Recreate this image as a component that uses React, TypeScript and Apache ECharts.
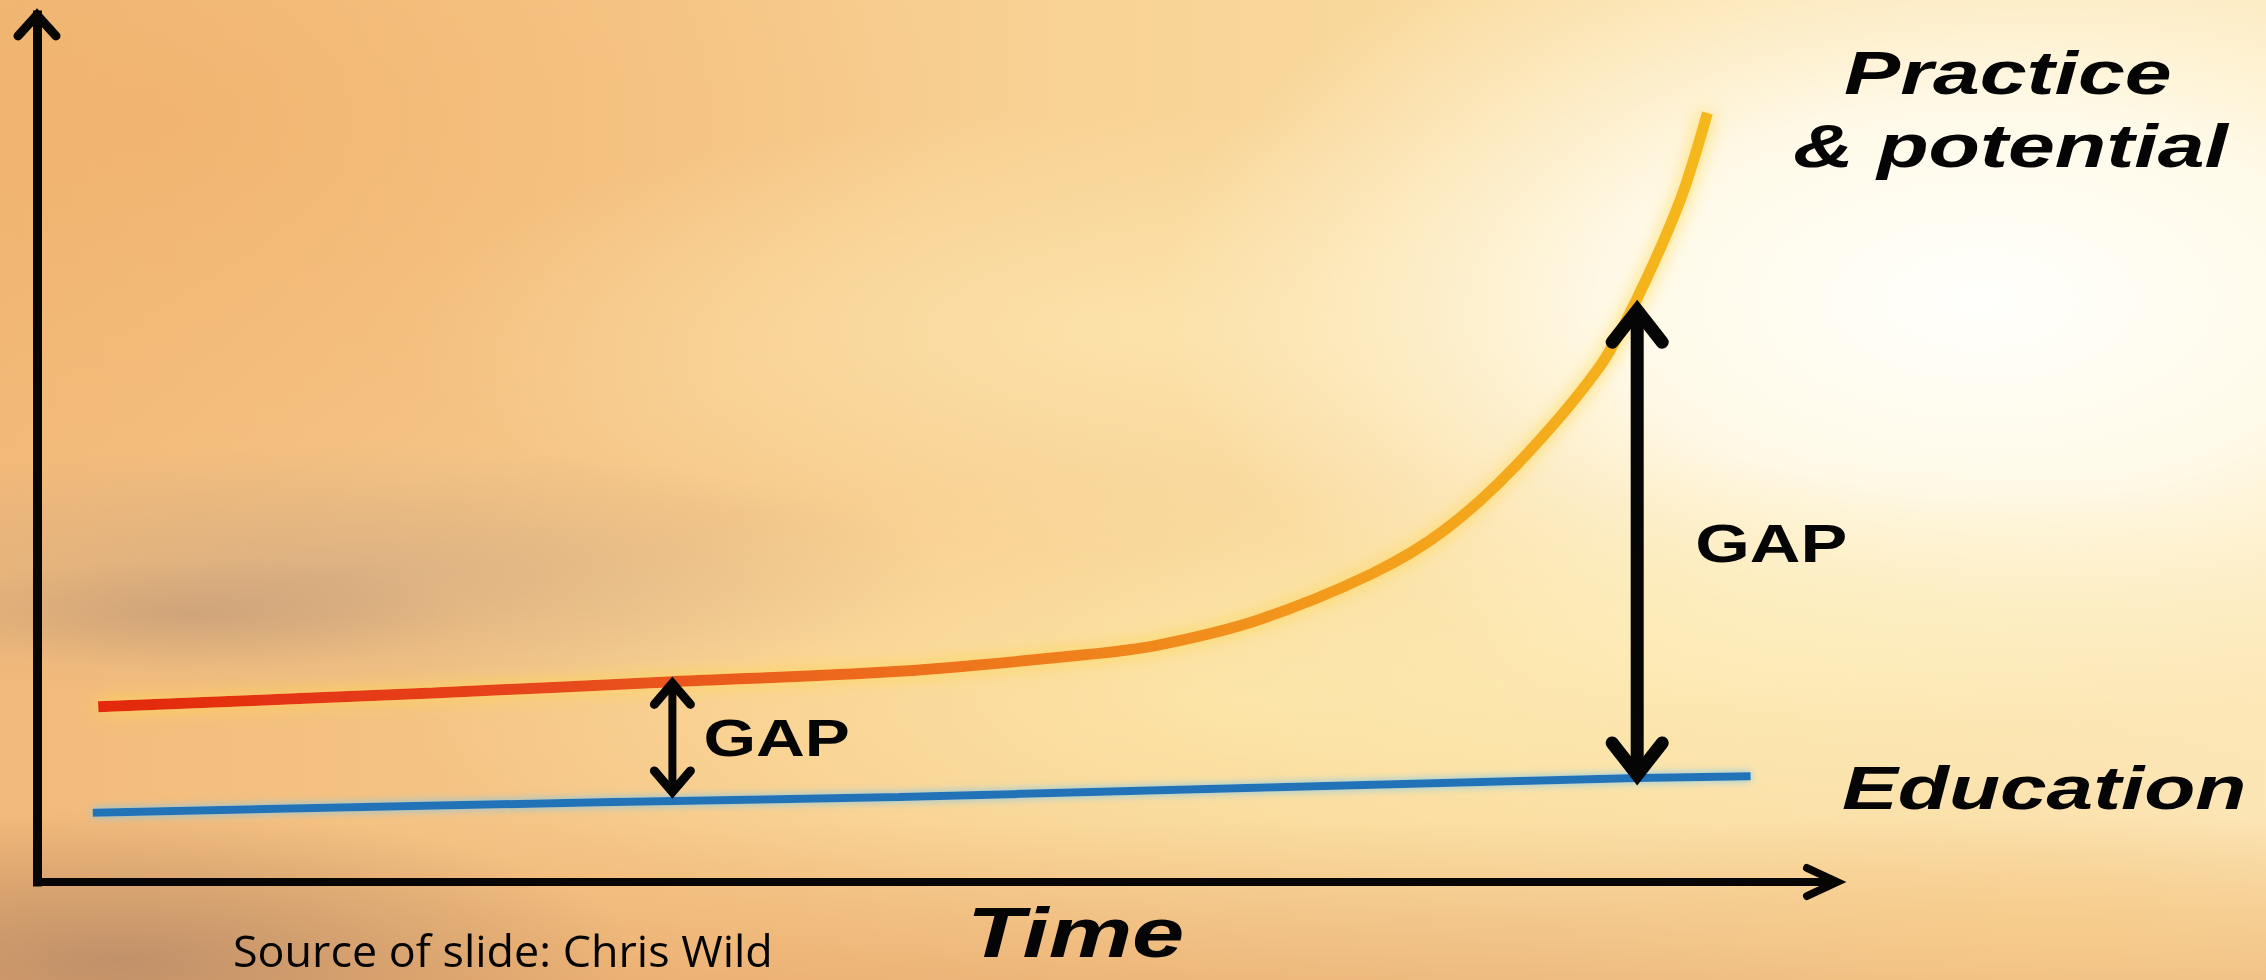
import React, { useEffect, useRef } from "react";
import * as echarts from "echarts";

// ---- data (axis units 0..100) ----
const practiceX = [3.4, 22.0, 35.3, 47.9, 58.2, 62.2, 67.8, 74.2, 78.2, 82.2, 86.7, 88.8, 91.3, 92.8];
const practiceY = [20.2, 21.8, 23.1, 24.3, 26.2, 27.3, 30.2, 35.6, 40.6, 48.1, 59.1, 66.9, 78.7, 88.7];
const educationX = [3.1, 31.3, 47.9, 88.9, 95.2];
const educationY = [8.0, 9.2, 9.8, 12.0, 12.2];
const gapX = [35.3, 88.9];
const gapTop = [23.6, 67.1];
const gapBottom = [9.7, 11.2];
const gapLabels = ["GAP", "GAP"];
const axisMin = 0;
const axisMax = 100;
const practiceLabel = ["Practice", "& potential"];
const educationLabel = "Education";
const axisTitle = "Time";
const sourceNote = "Source of slide: Chris Wild";

// ---- styles ----
const W = 2266;
const H = 980;
const BOLD = '"Liberation Sans", Arial, Helvetica, sans-serif';
const gapStyle = [
  { shaft: 8, stroke: 9, hw: 18, len: 27, inset: 6, font: 52, dx: 31, sx: 1.3 },
  { shaft: 13, stroke: 13, hw: 25, len: 42, inset: 10, font: 54, dx: 58, sx: 1.3 },
];
const axisHeadStyle = [
  { stroke: 8, ax: -30, ay: 14, horiz: true },
  { stroke: 9, ax: 19, ay: 21, horiz: false },
];

function radial(stops: [number, string][]) {
  return new echarts.graphic.RadialGradient(
    0.5,
    0.5,
    0.5,
    stops.map(([offset, color]) => ({ offset, color }))
  );
}

function blob(cx: number, cy: number, rx: number, ry: number, stops: [number, string][]) {
  return {
    type: "ellipse",
    silent: true,
    z: -100,
    shape: { cx, cy, rx, ry },
    style: { fill: radial(stops) },
  };
}

function label(text: string, x: number, y: number, font: string, sx: number) {
  const style: any = { text, x: 0, y: 0, font, fill: "#050505", align: "left", verticalAlign: "middle" };
  return { type: "text", silent: true, z: 100, x, y, scaleX: sx, style };
}

export default function App() {
  const ref = useRef<HTMLDivElement>(null);

  useEffect(() => {
    if (!ref.current) return;
    const chart = echarts.init(ref.current, undefined, { renderer: "svg", width: W, height: H });

    const background = [
      {
        type: "rect",
        silent: true,
        z: -100,
        shape: { x: 0, y: 0, width: W, height: H },
        style: {
          fill: new echarts.graphic.LinearGradient(0, 0, 1, 0, [
            { offset: 0, color: "#F2BA7A" },
            { offset: 0.35, color: "#F7CB8C" },
            { offset: 0.65, color: "#FADBA0" },
            { offset: 1, color: "#FCE6B6" },
          ]),
        },
      },
      blob(150, 120, 800, 380, [[0, "rgba(240,172,100,0.5)"], [1, "rgba(240,172,100,0)"]]),
      blob(1150, 330, 750, 220, [[0, "rgba(253,232,178,0.7)"], [1, "rgba(253,232,178,0)"]]),
      blob(1250, 700, 850, 230, [[0, "rgba(253,232,170,0.75)"], [1, "rgba(253,232,170,0)"]]),
      blob(1980, 300, 820, 430, [[0, "rgba(255,255,252,1)"], [0.45, "rgba(255,252,238,0.9)"], [1, "rgba(255,246,215,0)"]]),
      blob(1750, 640, 700, 180, [[0, "rgba(253,240,190,0.6)"], [1, "rgba(253,240,190,0)"]]),
      blob(330, 575, 620, 130, [[0, "rgba(188,155,130,0.45)"], [1, "rgba(188,155,130,0)"]]),
      blob(190, 615, 280, 55, [[0, "rgba(160,128,108,0.3)"], [1, "rgba(160,128,108,0)"]]),
      {
        type: "rect",
        silent: true,
        z: -100,
        shape: { x: 0, y: 820, width: W, height: 160 },
        style: {
          fill: new echarts.graphic.LinearGradient(0, 0, 0, 1, [
            { offset: 0, color: "rgba(228,160,100,0)" },
            { offset: 1, color: "rgba(228,160,100,0.55)" },
          ]),
        },
      },
      blob(120, 960, 520, 150, [[0, "rgba(165,125,100,0.6)"], [1, "rgba(165,125,100,0)"]]),
      blob(2050, 930, 520, 130, [[0, "rgba(250,205,130,0.5)"], [1, "rgba(250,205,130,0)"]]),
    ];

    const texts = [
      label(practiceLabel[0], 1844, 73, `italic bold 61px ${BOLD}`, 1.38),
      label(practiceLabel[1], 1793, 146, `italic bold 61px ${BOLD}`, 1.38),
      label(educationLabel, 1842, 788, `italic bold 62px ${BOLD}`, 1.35),
      label(axisTitle, 967, 933, `italic bold 70px ${BOLD}`, 1.34),
      label(sourceNote, 233, 950, `44px "Open Sans", "Noto Sans", sans-serif`, 1.02),
    ];

    const option: any = {
      animation: false,
      backgroundColor: "transparent",
      graphic: [...background, ...texts],
      grid: { left: 37, right: W - 1837, top: 15, bottom: H - 882, containLabel: false },
      xAxis: {
        type: "value",
        min: axisMin,
        max: axisMax,
        axisLine: { show: true, onZero: false, lineStyle: { color: "#070605", width: 8, cap: "butt" } },
        axisTick: { show: false },
        axisLabel: { show: false },
        splitLine: { show: false },
      },
      yAxis: {
        type: "value",
        min: axisMin,
        max: axisMax,
        axisLine: { show: true, onZero: false, lineStyle: { color: "#070605", width: 9, cap: "square" } },
        axisTick: { show: false },
        axisLabel: { show: false },
        splitLine: { show: false },
      },
      series: [
        {
          name: "Practice & potential",
          type: "line",
          smooth: 0.3,
          symbol: "none",
          clip: false,
          data: practiceX.map((x, i) => [x, practiceY[i]]),
          lineStyle: {
            width: 11,
            cap: "butt",
            color: new echarts.graphic.LinearGradient(0, 0, 1, 0, [
              { offset: 0, color: "#E3280C" },
              { offset: 0.25, color: "#E6431A" },
              { offset: 0.45, color: "#EC661C" },
              { offset: 0.65, color: "#F0881E" },
              { offset: 0.8, color: "#F3A01C" },
              { offset: 1, color: "#F5B81A" },
            ]),
            shadowBlur: 18,
            shadowColor: "rgba(255,215,80,0.95)",
          },
          z: 3,
        },
        {
          name: "Education",
          type: "line",
          symbol: "none",
          clip: false,
          data: educationX.map((x, i) => [x, educationY[i]]),
          lineStyle: {
            width: 8,
            cap: "butt",
            color: "#2472B8",
            shadowBlur: 8,
            shadowColor: "rgba(120,200,240,0.95)",
          },
          z: 3,
        },
        {
          name: "gaps",
          type: "custom",
          clip: false,
          z: 5,
          data: gapX.map((x, i) => [x, gapTop[i], gapBottom[i]]),
          renderItem: (params: any, api: any) => {
            const s = gapStyle[params.dataIndex];
            const t = api.coord([api.value(0), api.value(1)]);
            const b = api.coord([api.value(0), api.value(2)]);
            const x = t[0];
            const ty = t[1] + s.inset;
            const by = b[1] - s.inset;
            const head = (pts: number[][]) => ({
              type: "polyline",
              shape: { points: pts },
              style: { stroke: "#050505", fill: "none", lineWidth: s.stroke, lineJoin: "miter", lineCap: "round" },
            });
            return {
              type: "group",
              children: [
                { type: "line", shape: { x1: x, y1: ty, x2: x, y2: by }, style: { stroke: "#050505", lineWidth: s.shaft } },
                head([[x - s.hw, t[1] + s.len], [x, ty], [x + s.hw, t[1] + s.len]]),
                head([[x - s.hw, b[1] - s.len], [x, by], [x + s.hw, b[1] - s.len]]),
                {
                  type: "text",
                  x: x + s.dx,
                  y: (t[1] + b[1]) / 2,
                  scaleX: s.sx,
                  style: {
                    text: gapLabels[params.dataIndex],
                    font: `bold ${s.font}px ${BOLD}`,
                    fill: "#050505",
                    align: "left",
                    verticalAlign: "middle",
                  },
                },
              ],
            };
          },
        },
        {
          name: "axisHeads",
          type: "custom",
          clip: false,
          z: 6,
          data: [
            [axisMax, axisMin],
            [axisMin, axisMax],
          ],
          renderItem: (params: any, api: any) => {
            const s = axisHeadStyle[params.dataIndex];
            const v = api.coord([api.value(0), api.value(1)]);
            const pts = s.horiz
              ? [[v[0] + s.ax, v[1] - s.ay], [v[0], v[1]], [v[0] + s.ax, v[1] + s.ay]]
              : [[v[0] - s.ax, v[1] + s.ay], [v[0], v[1]], [v[0] + s.ax, v[1] + s.ay]];
            return {
              type: "polyline",
              shape: { points: pts },
              style: { stroke: "#070605", fill: "none", lineWidth: s.stroke, lineJoin: "miter", lineCap: "round" },
            };
          },
        },
      ],
    };

    chart.setOption(option);
    return () => chart.dispose();
  }, []);

  return <div ref={ref} style={{ position: "fixed", left: 0, top: 0, width: W, height: H }} />;
}
